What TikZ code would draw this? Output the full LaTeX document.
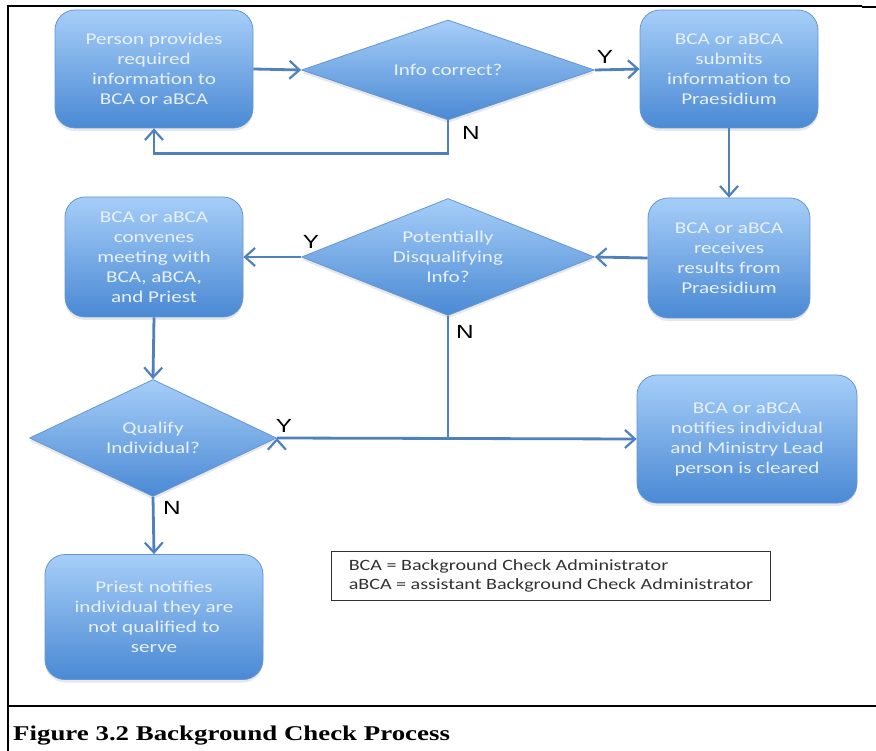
\documentclass[tikz,border=0pt]{standalone}
\usepackage{fontspec}
\usetikzlibrary{shapes.geometric,arrows.meta,shadows}
\newfontfamily\boxfont[FakeStretch=1.28]{Carlito}
\newfontfamily\ynfont[FakeStretch=1.28]{Liberation Sans}
\newfontfamily\capfont[FakeStretch=1.28]{Liberation Serif}
\definecolor{box_top}{RGB}{166,206,248}
\definecolor{box_bot}{RGB}{74,137,212}
\definecolor{box_edge}{RGB}{100,150,212}
\definecolor{box_text}{RGB}{232,240,250}
\definecolor{edge_blue}{RGB}{79,129,189}
\definecolor{key_gray}{RGB}{50,50,50}

\begin{document}
\begin{tikzpicture}[x=1pt,y=-1pt,>={Straight Barb[length=10pt,width=18pt,line width=2.2pt]}]
    \tikzstyle{proc}=[draw=box_edge, line width=0.8pt, line join=round, rounded corners=20pt, top color=box_top, bottom color=box_bot, text=box_text, align=center, font=\boxfont\fontsize{16.5}{20}\selectfont, drop shadow={opacity=0.18,shadow xshift=0pt,shadow yshift=-3pt}]
    \tikzstyle{choice}=[style=proc, shape=diamond, rounded corners=0pt, aspect=2.5, inner sep=0pt]
    \tikzstyle{flow}=[->, draw=edge_blue, line width=2.8pt]
    \tikzstyle{yn}=[font=\ynfont\fontsize{19}{19}\selectfont, text=black, inner sep=0pt]
    \useasboundingbox (0,0) rectangle (876,751);

    % frame and caption
    \draw[line width=2pt] (8,5) -- (8,751);
    \draw[line width=1.5pt] (7,6) -- (862,6);
    \draw[line width=2.5pt] (862,7) -- (876,7);
    \draw[line width=2.5pt] (7,706) -- (876,706);
    \node[anchor=base west, inner sep=0pt, font=\capfont\bfseries\fontsize{21}{21}\selectfont] (caption) at (13,740) {Figure 3.2 Background Check Process};

    \node[proc, minimum width=198pt, minimum height=118pt] (p1) at (154,69)  {Person provides\\required\\information to\\BCA or aBCA};
    \node[choice, minimum width=293pt, minimum height=100pt] (d1) at (448,70) {Info correct?};
    \node[proc, minimum width=178pt, minimum height=118pt] (p2) at (729,69)  {BCA or aBCA\\submits\\information to\\Praesidium};
    \node[proc, minimum width=162pt, minimum height=120pt] (p3) at (729,258) {BCA or aBCA\\receives\\results from\\Praesidium};
    \node[choice, minimum width=293pt, minimum height=117pt] (d2) at (448,257) {Potentially\\Disqualifying\\Info?};
    \node[proc, minimum width=178pt, minimum height=120pt] (p4) at (154,257) {BCA or aBCA\\convenes\\meeting with\\BCA, aBCA,\\and Priest};
    \node[choice, minimum width=247pt, minimum height=117pt] (d3) at (153,438) {Qualify\\Individual?};
    \node[proc, minimum width=220pt, minimum height=128pt] (p6) at (747,439) {BCA or aBCA\\notifies individual\\and Ministry Lead\\person is cleared};
    \node[proc, minimum width=218pt, minimum height=125pt] (p5) at (154,617) {Priest notifies\\individual they are\\not qualified to\\serve};

    \node[draw=key_gray, line width=1.2pt, align=left, text=key_gray, minimum width=439pt, minimum height=49pt, font=\boxfont\fontsize{15.7}{19}\selectfont] (key) at (551,576) {BCA = Background Check Administrator\\aBCA = assistant Background Check Administrator};

    \path[flow]
     (p1.east) edge (d1.west)
     (d1.east) edge (p2.west)
     (p2.south) edge (p3.north)
     (p3.west) edge (d2.east)
     (d2.west) edge (p4.east)
     (p4.south) edge (d3.north)
     (d3.south) edge (p5.north)
     (d3.east) edge (p6.west)
     ;
    \draw[flow] (d1.south) -- ++(0,33) -| (p1.south);
    \draw[flow,-] (d2.south) -- (d2.south |- d3.east);

    \node[yn] (y1) at (605,57)  {Y};
    \node[yn] (n1) at (471,133) {N};
    \node[yn] (y2) at (311,242) {Y};
    \node[yn] (n2) at (465,332) {N};
    \node[yn] (y3) at (284,426) {Y};
    \node[yn] (n3) at (172,508) {N};
  \end{tikzpicture}
\end{document}
